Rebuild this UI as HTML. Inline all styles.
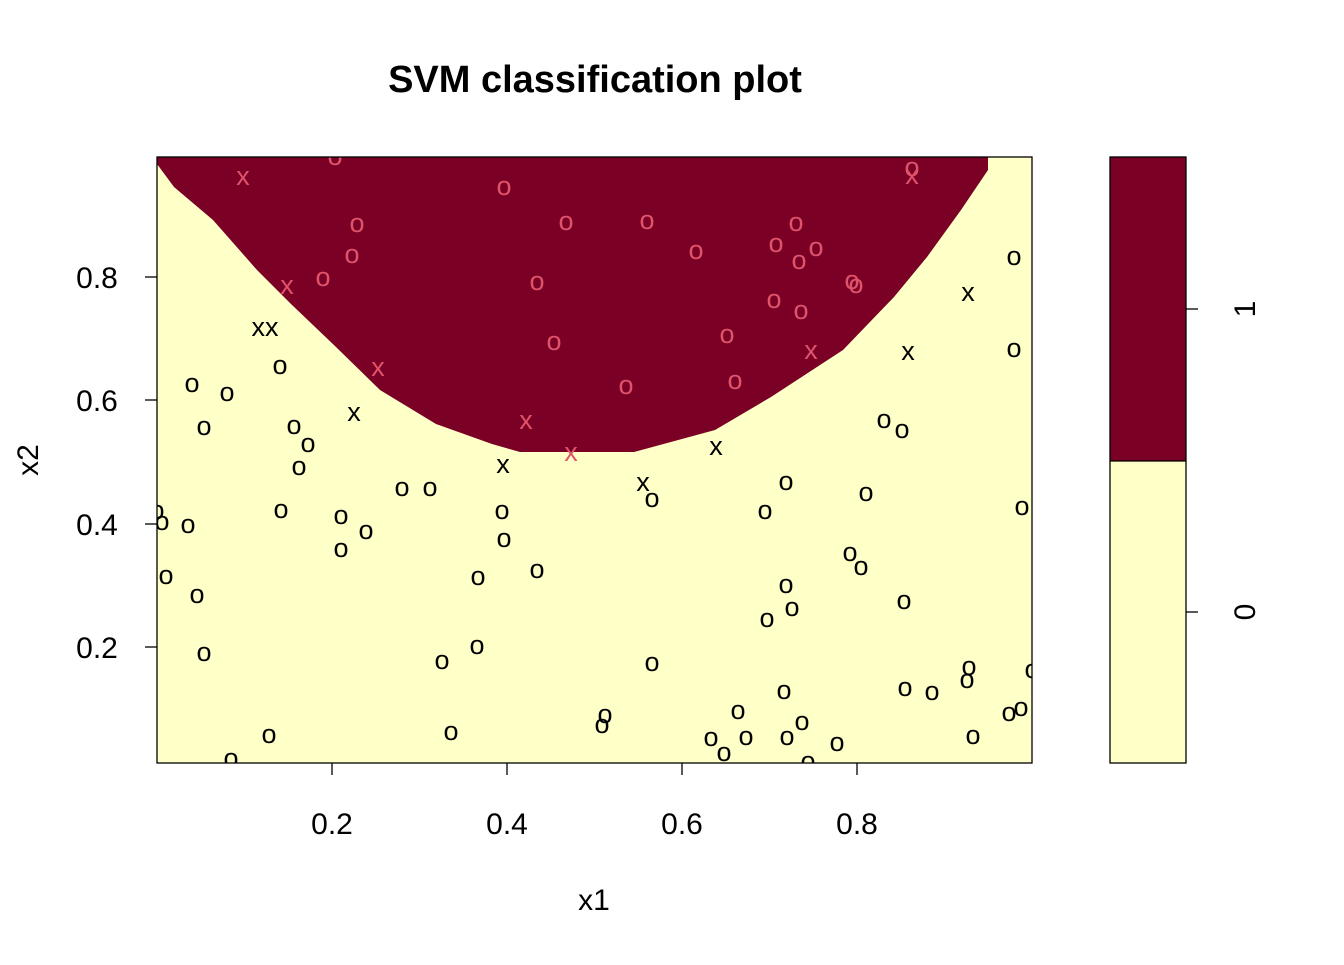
<!DOCTYPE html>
<html><head><meta charset="utf-8"><style>
body{margin:0;background:#fff}
svg text{font-family:"Liberation Sans",Arial,sans-serif}
</style></head><body>
<svg width="1344" height="960" xmlns="http://www.w3.org/2000/svg">
<defs><clipPath id="c"><rect x="157" y="157" width="875" height="606"/></clipPath></defs>
<rect x="157" y="157" width="875" height="606" fill="#FFFFC8"/>
<g clip-path="url(#c)">
<path d="M157,157 L157,164 L174,187 L213,220 L257,270 L291,304 L336,347 L380,390 L436,424 L492,444 L520,452 L634,452 L715,430 L771,397 L843,350 L894,297 L927,257 L961,210 L988,170 L988,157 Z" fill="#7A0025"/>
<g style="font-size:27px" text-anchor="middle" fill="#DF536B">
<text x="243" y="185">x</text><text x="335" y="165">o</text><text x="504" y="195">o</text><text x="357" y="232">o</text><text x="352" y="263">o</text><text x="323" y="286">o</text><text x="287" y="294">x</text><text x="537" y="290">o</text><text x="566" y="230">o</text><text x="647" y="229">o</text><text x="696" y="259">o</text><text x="796" y="231">o</text><text x="776" y="252">o</text><text x="816" y="256">o</text><text x="799" y="269">o</text><text x="852" y="289">o</text><text x="856" y="293">o</text><text x="912" y="176">o</text><text x="912" y="184">x</text><text x="774" y="308">o</text><text x="801" y="319">o</text><text x="727" y="343">o</text><text x="811" y="359">x</text><text x="554" y="350">o</text><text x="735" y="389">o</text><text x="626" y="394">o</text><text x="378" y="376">x</text><text x="526" y="429">x</text><text x="571" y="461">x</text>
</g>
<g style="font-size:27px" text-anchor="middle" fill="#000">
<text x="265" y="336">xx</text><text x="354" y="421">x</text><text x="503" y="473">x</text><text x="643" y="491">x</text><text x="716" y="455">x</text><text x="908" y="360">x</text><text x="968" y="301">x</text>
<text x="1014" y="265">o</text><text x="1014" y="357">o</text><text x="280" y="374">o</text><text x="192" y="392">o</text><text x="227" y="401">o</text><text x="204" y="435">o</text><text x="294" y="434">o</text><text x="308" y="452">o</text><text x="299" y="475">o</text><text x="884" y="428">o</text><text x="902" y="438">o</text><text x="786" y="490">o</text><text x="652" y="507">o</text><text x="402" y="496">o</text><text x="430" y="496">o</text><text x="157" y="519">o</text><text x="162" y="530">o</text><text x="188" y="533">o</text><text x="281" y="518">o</text><text x="341" y="524">o</text><text x="366" y="539">o</text><text x="502" y="519">o</text><text x="504" y="547">o</text><text x="765" y="519">o</text><text x="866" y="501">o</text><text x="1022" y="515">o</text><text x="341" y="557">o</text><text x="166" y="584">o</text><text x="478" y="585">o</text><text x="537" y="578">o</text><text x="850" y="561">o</text><text x="861" y="575">o</text><text x="786" y="593">o</text><text x="197" y="603">o</text><text x="792" y="616">o</text><text x="904" y="609">o</text><text x="767" y="627">o</text><text x="477" y="654">o</text><text x="204" y="661">o</text><text x="442" y="669">o</text><text x="652" y="671">o</text><text x="1032" y="678">o</text><text x="969" y="675">o</text><text x="967" y="688">o</text><text x="905" y="696">o</text><text x="932" y="700">o</text><text x="784" y="699">o</text><text x="605" y="723">o</text><text x="602" y="733">o</text><text x="738" y="719">o</text><text x="1009" y="721">o</text><text x="1021" y="716">o</text><text x="802" y="730">o</text><text x="269" y="743">o</text><text x="451" y="740">o</text><text x="711" y="746">o</text><text x="746" y="745">o</text><text x="787" y="745">o</text><text x="837" y="751">o</text><text x="973" y="744">o</text><text x="724" y="761">o</text><text x="231" y="767">o</text><text x="808" y="770">o</text>
</g>
</g>
<rect x="157" y="157" width="875" height="606" fill="none" stroke="#000" stroke-width="1.3"/>
<g stroke="#000" stroke-width="1.3">
<line x1="332" y1="763" x2="332" y2="775"/><line x1="507" y1="763" x2="507" y2="775"/><line x1="682" y1="763" x2="682" y2="775"/><line x1="857" y1="763" x2="857" y2="775"/>
<line x1="145" y1="277" x2="157" y2="277"/><line x1="145" y1="400" x2="157" y2="400"/><line x1="145" y1="524" x2="157" y2="524"/><line x1="145" y1="647" x2="157" y2="647"/>
</g>
<g style="font-size:30px" fill="#000" text-anchor="middle">
<text x="332" y="834">0.2</text><text x="507" y="834">0.4</text><text x="682" y="834">0.6</text><text x="857" y="834">0.8</text>
<text x="594" y="910">x1</text>
<text x="97" y="288">0.8</text>
<text x="97" y="411">0.6</text>
<text x="97" y="535">0.4</text>
<text x="97" y="658">0.2</text>
<text transform="translate(38,460) rotate(-90)">x2</text>
<text x="595" y="92" style="font-size:38px;font-weight:bold">SVM classification plot</text>
</g>
<rect x="1110" y="157" width="76" height="304" fill="#7A0025"/>
<rect x="1110" y="461" width="76" height="302" fill="#FFFFC8"/>
<rect x="1110" y="157" width="76" height="606" fill="none" stroke="#000" stroke-width="1.3"/>
<line x1="1110" y1="461" x2="1186" y2="461" stroke="#000" stroke-width="1.3"/>
<line x1="1186" y1="309" x2="1198" y2="309" stroke="#000" stroke-width="1.3"/>
<line x1="1186" y1="612" x2="1198" y2="612" stroke="#000" stroke-width="1.3"/>
<g style="font-size:30px" text-anchor="middle">
<text transform="translate(1255,309) rotate(-90)">1</text>
<text transform="translate(1255,612) rotate(-90)">0</text>
</g>
</svg>
</body></html>
